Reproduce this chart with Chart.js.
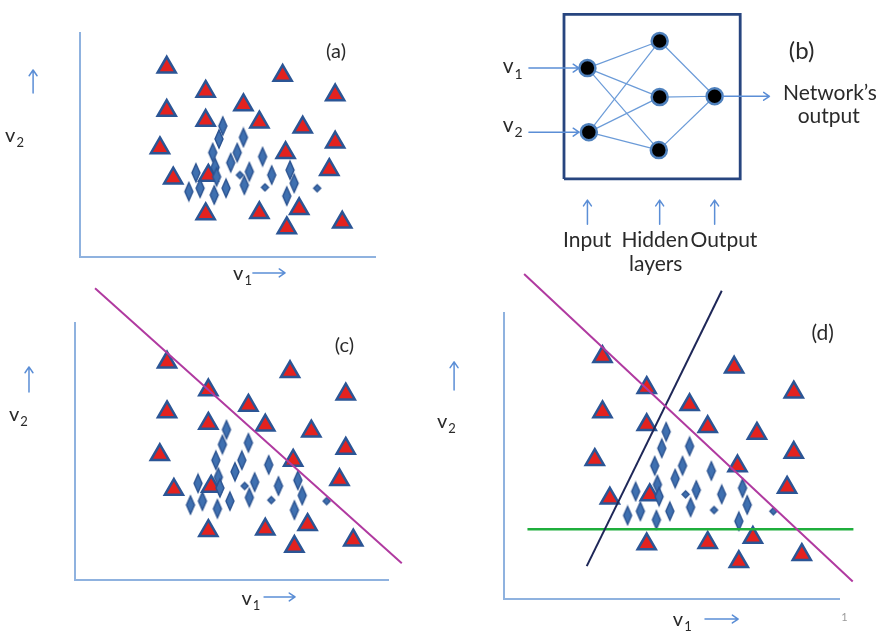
<!DOCTYPE html>
<html>
<head>
<meta charset="utf-8">
<script src="https://cdn.jsdelivr.net/npm/chart.js@4.4.1/dist/chart.umd.min.js"></script>
<style>
  html, body { margin: 0; padding: 0; background: #ffffff; }
  #wrap { position: relative; width: 889px; height: 633px; overflow: hidden; background: #ffffff; }
  #wrap canvas { position: absolute; left: 0; top: 0; }
</style>
</head>
<body>
<div id="wrap">
  <canvas id="panelA" width="889" height="633"></canvas>
  <canvas id="panelB" width="889" height="633"></canvas>
  <canvas id="panelC" width="889" height="633"></canvas>
  <canvas id="panelD" width="889" height="633"></canvas>
</div>
<script>
// ---- samples in (v1, v2) units, axes run 0..10 ----
// class 1: triangles
const triangles = [
  [2.94, 8.47], [6.87, 8.10], [4.26, 7.39], [8.65, 7.23], [5.54, 6.79],
  [2.94, 6.54], [4.26, 6.09], [6.08, 6.02], [7.55, 5.79], [2.71, 4.87],
  [8.65, 5.12], [6.97, 4.65], [8.45, 3.90], [3.16, 3.52], [4.35, 3.64],
  [4.26, 1.92], [6.08, 1.97], [7.43, 2.15], [7.01, 1.30], [8.89, 1.55]
];
// class 2: diamonds (elongated ones)
const tallDiamonds = [
  [4.84, 5.85], [4.71, 5.27], [5.54, 5.34], [4.50, 4.66], [5.33, 4.66],
  [5.11, 4.21], [6.19, 4.48], [4.58, 4.00], [3.93, 3.76], [4.63, 3.58],
  [5.74, 3.81], [7.12, 3.88], [6.50, 3.66], [7.26, 3.29], [4.07, 3.07],
  [3.69, 2.92], [4.55, 2.77], [4.95, 3.07], [5.57, 3.21], [7.01, 2.72]
];
// class 2: diamonds (small ones)
const smallDiamonds = [[5.42, 3.66], [6.27, 3.11], [8.04, 3.07]];

// ---- separating lines ----
const boundaryC = [[0.64, 11.35], [10.44, 0.65]];
const boundaryD1 = [[0.60, 11.36], [10.41, 0.61]];
const boundaryD2 = [[2.47, 1.15], [6.50, 10.78]];
const boundaryD3 = [[0.70, 2.44], [10.43, 2.44]];

// ---- network diagram (box spans 0..10 in both directions) ----
const inputNodes = [[1.33, 6.73], [1.41, 2.84]];
const hiddenNodes = [[5.43, 8.38], [5.43, 4.97], [5.38, 1.75]];
const outputNodes = [[8.55, 5.02]];
const boxCorners = [[0, 0], [10, 0], [10, 10], [0, 10], [0, 0]];
const layerNames = ['Input', 'Hidden', 'Output'];

// ---- colours ----
const AXIS = '#8fb2df';
const ARROW = '#5b8ed6';
const TEXT = '#2a2a2a';
const TRI_FILL = '#e3221f';
const TRI_EDGE = '#2b5595';
const DIA_FILL = '#3f70b0';
const DIA_EDGE = '#2a5290';
const MAGENTA = '#b03aa0';
const NAVY = '#1e2758';
const GREEN = '#1fae3c';
const BOX = '#27457f';
const EDGE = '#6b9bd8';
const FONT = 'Lato, "Open Sans", "Liberation Sans", sans-serif';

const pts = arr => arr.map(([x, y]) => ({ x, y }));

function diamondImage(w, h) {
  const c = document.createElement('canvas');
  c.width = Math.ceil(w) + 4;
  c.height = Math.ceil(h) + 4;
  const g = c.getContext('2d');
  const cx = c.width / 2, cy = c.height / 2;
  g.beginPath();
  g.moveTo(cx, cy - h / 2);
  g.lineTo(cx + w / 2, cy);
  g.lineTo(cx, cy + h / 2);
  g.lineTo(cx - w / 2, cy);
  g.closePath();
  g.fillStyle = DIA_FILL;
  g.fill();
  g.lineWidth = 1.4;
  g.strokeStyle = DIA_EDGE;
  g.stroke();
  return c;
}
const tallImg = diamondImage(8, 18);
const smallImg = diamondImage(7, 7);

function drawArrow(ctx, x0, y0, x1, y1, color, width) {
  const ang = Math.atan2(y1 - y0, x1 - x0);
  const head = 7, spread = 0.6;
  ctx.save();
  ctx.strokeStyle = color;
  ctx.lineWidth = width;
  ctx.lineCap = 'round';
  ctx.lineJoin = 'round';
  ctx.beginPath();
  ctx.moveTo(x0, y0);
  ctx.lineTo(x1, y1);
  ctx.moveTo(x1 - head * Math.cos(ang - spread), y1 - head * Math.sin(ang - spread));
  ctx.lineTo(x1, y1);
  ctx.lineTo(x1 - head * Math.cos(ang + spread), y1 - head * Math.sin(ang + spread));
  ctx.stroke();
  ctx.restore();
}

// texts and arrows placed in each chart's own data units
function annotations(cfg) {
  return {
    id: 'annotations',
    afterDatasetsDraw(chart) {
      const ctx = chart.ctx;
      const xs = chart.scales.x, ys = chart.scales.y;
      (cfg.arrows || []).forEach(a => {
        drawArrow(ctx,
          xs.getPixelForValue(a.from[0]), ys.getPixelForValue(a.from[1]),
          xs.getPixelForValue(a.to[0]), ys.getPixelForValue(a.to[1]),
          a.color || ARROW, a.width || 1.5);
      });
      (cfg.texts || []).forEach(t => {
        const px = xs.getPixelForValue(t.x), py = ys.getPixelForValue(t.y);
        ctx.save();
        ctx.font = `${t.size}px ${FONT}`;
        ctx.fillStyle = t.color || TEXT;
        ctx.textAlign = t.align || 'left';
        ctx.textBaseline = t.baseline || 'alphabetic';
        ctx.fillText(t.text, px, py);
        if (t.sub) {
          const w = ctx.measureText(t.text).width;
          ctx.font = `${t.subSize}px ${FONT}`;
          ctx.textAlign = 'left';
          ctx.fillText(t.sub, px + w + 1, py + t.subSize * 0.4);
        }
        ctx.restore();
      });
    }
  };
}

function axisScale(min, max, show) {
  return {
    type: 'linear', min, max, display: true,
    grid: { display: false, drawTicks: false },
    ticks: { display: false },
    border: { display: show, color: AXIS, width: 2 }
  };
}

function baseOptions(padding, xr, yr, showAxes) {
  return {
    responsive: false,
    animation: false,
    events: [],
    layout: { padding },
    plugins: { legend: { display: false }, tooltip: { enabled: false } },
    scales: { x: axisScale(xr[0], xr[1], showAxes), y: axisScale(yr[0], yr[1], showAxes) }
  };
}

function lineSet(points, color, width) {
  return {
    data: pts(points), showLine: true, borderColor: color, borderWidth: width,
    pointRadius: 0, fill: false, clip: false
  };
}

function sampleSets() {
  return [
    { data: pts(smallDiamonds), pointStyle: smallImg, pointRadius: 3, clip: false },
    { data: pts(tallDiamonds), pointStyle: tallImg, pointRadius: 4, clip: false },
    {
      data: pts(triangles), pointStyle: 'triangle', pointRadius: 10.5,
      pointBackgroundColor: TRI_FILL, pointBorderColor: TRI_EDGE, pointBorderWidth: 2.5, clip: false
    }
  ];
}

function axisLabels(xl, yl, xa, ya) {
  return {
    texts: [
      { text: 'v', sub: '1', x: xl[0], y: xl[1], size: 20, subSize: 13 },
      { text: 'v', sub: '2', x: yl[0], y: yl[1], size: 20, subSize: 13 }
    ],
    arrows: [{ from: xa[0], to: xa[1] }, { from: ya[0], to: ya[1] }]
  };
}

// (a) raw samples
const cfgA = axisLabels([5.19, -1.03], [-2.54, 5.13],
  [[5.86, -0.71], [6.95, -0.71]], [[-1.59, 7.32], [-1.59, 8.35]]);
cfgA.texts.push({ text: '(a)', x: 8.68, y: 9.15, size: 20, align: 'center', baseline: 'middle' });
new Chart(document.getElementById('panelA'), {
  type: 'scatter',
  data: { datasets: sampleSets() },
  options: baseOptions({ left: 80, top: 33, right: 514, bottom: 376 }, [0, 10], [0, 10], true),
  plugins: [annotations(cfgA)]
});

// (c) one linear boundary
const cfgC = axisLabels([5.32, -0.97], [-2.11, 6.2],
  [[6.04, -0.66], [7.03, -0.66]], [[-1.47, 7.32], [-1.47, 8.29]]);
cfgC.texts.push({ text: '(c)', x: 8.61, y: 9.14, size: 20, align: 'center', baseline: 'middle' });
new Chart(document.getElementById('panelC'), {
  type: 'scatter',
  data: { datasets: [lineSet(boundaryC, MAGENTA, 2), ...sampleSets()] },
  options: baseOptions({ left: 75, top: 323, right: 501, bottom: 53 }, [0, 10], [0, 10], true),
  plugins: [annotations(cfgC)]
});

// (d) three boundaries enclosing class 2
const cfgD = axisLabels([5.04, -0.94], [-2.0, 5.98],
  [[6.0, -0.70], [6.99, -0.70]], [[-1.49, 7.31], [-1.49, 8.29]]);
cfgD.texts.push({ text: '(d)', x: 9.51, y: 9.28, size: 21, align: 'center', baseline: 'middle' });
cfgD.texts.push({ text: '1', x: 10.16, y: -0.66, size: 11, align: 'center', baseline: 'middle', color: '#9a9a9a' });
new Chart(document.getElementById('panelD'), {
  type: 'scatter',
  data: {
    datasets: [
      lineSet(boundaryD1, MAGENTA, 2),
      lineSet(boundaryD2, NAVY, 2),
      lineSet(boundaryD3, GREEN, 2.5),
      ...sampleSets()
    ]
  },
  options: baseOptions({ left: 504, top: 313, right: 50, bottom: 34 }, [0, 10], [0, 10], true),
  plugins: [annotations(cfgD)]
});

// (b) network: input layer -> hidden layer -> output
const edges = [];
inputNodes.forEach(a => hiddenNodes.forEach(b => edges.push([a, b])));
hiddenNodes.forEach(a => outputNodes.forEach(b => edges.push([a, b])));
const allNodes = [...inputNodes, ...hiddenNodes, ...outputNodes];
const layerX = [inputNodes[0][0], hiddenNodes[0][0], outputNodes[0][0]];

const cfgB = {
  texts: [
    { text: 'v', sub: '1', x: -3.48, y: 6.43, size: 21, subSize: 14 },
    { text: 'v', sub: '2', x: -3.48, y: 2.87, size: 21, subSize: 14 },
    { text: '(b)', x: 13.48, y: 7.78, size: 24, align: 'center', baseline: 'middle' },
    { text: 'Network\u2019s', x: 12.43, y: 4.80, size: 21 },
    { text: 'output', x: 13.26, y: 3.37, size: 21 },
    { text: layerNames[0], x: -0.06, y: -4.15, size: 21 },
    { text: layerNames[1], x: 3.26, y: -4.15, size: 21 },
    { text: layerNames[2], x: 7.18, y: -4.15, size: 21 },
    { text: 'layers', x: 3.69, y: -5.6, size: 21 }
  ],
  arrows: [
    { from: [-1.99, inputNodes[0][1]], to: [0.85, inputNodes[0][1]] },
    { from: [-1.99, inputNodes[1][1]], to: [0.85, inputNodes[1][1]] },
    { from: [9.0, outputNodes[0][1]], to: [11.66, outputNodes[0][1]] },
    ...layerX.map(x => ({ from: [x, -2.75], to: [x, -1.29] }))
  ]
};

new Chart(document.getElementById('panelB'), {
  type: 'scatter',
  data: {
    datasets: [
      {
        data: pts(allNodes), pointStyle: 'circle', pointRadius: 8,
        pointBackgroundColor: '#000000', pointBorderColor: '#4f81bd', pointBorderWidth: 2.5, clip: false
      },
      ...edges.map(e => lineSet(e, EDGE, 1.2)),
      Object.assign(lineSet(boxCorners, BOX, 2.8), { borderJoinStyle: 'miter' })
    ]
  },
  options: baseOptions({ left: 490, top: 0, right: 0, bottom: 353 }, [-4.2, 17.85], [-6.14, 10.23], false),
  plugins: [annotations(cfgB)]
});
</script>
</body>
</html>
